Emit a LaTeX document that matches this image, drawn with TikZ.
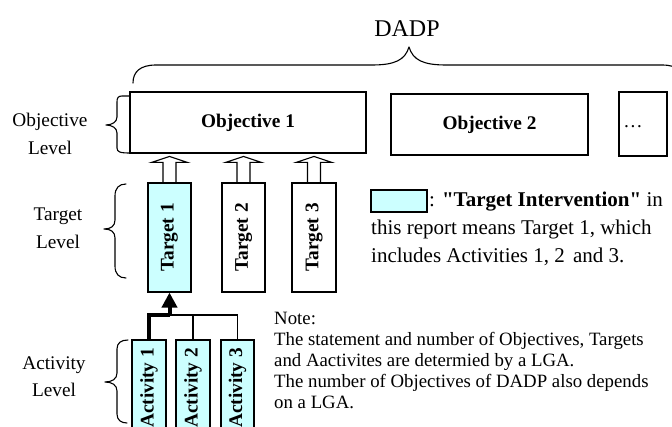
\documentclass[tikz,border=0pt]{standalone}
\usepackage{fontspec}
\usepackage{graphicx}
\setmainfont{Liberation Serif}[Ligatures=TeXOff]
\usetikzlibrary{arrows.meta,calc}
\definecolor{tgtcyan}{RGB}{204,255,255}

\begin{document}
\begin{tikzpicture}[x=1pt,y=-1pt,
  box/.style={draw,line width=1.1pt,inner sep=0pt},
  boldlbl/.style={font=\fontsize{19.3}{23}\selectfont\bfseries},
  lvl/.style={font=\fontsize{19.3}{28}\selectfont,align=center,anchor=base,inner sep=0pt},
  bracepath/.style={line width=1.1pt,line cap=round,line join=round},
  hollow/.style={line width=1.1pt,line join=miter},
  thinconn/.style={line width=1.3pt},
  thickconn/.style={line width=4pt,line join=miter}]
\useasboundingbox (0,0) rectangle (672,427);
\clip (0,0) rectangle (672,427);

% Objective level
\node[box,boldlbl,minimum width=236,minimum height=61] (obj1) at (248,122.5) {Objective 1};
\node[box,boldlbl,minimum width=197,minimum height=61] (obj2) at (489.5,124.5) {Objective 2};
\node[box,minimum width=48,minimum height=64] (more) at (643,124) {};
\node[font=\fontsize{19.3}{23}\selectfont,inner sep=0pt] (moretxt) at (633,127) {\dots};

% Target level
\node[box,fill=tgtcyan,boldlbl,minimum width=43,minimum height=109] (tgt1) at (169.5,237.5) {\rotatebox{90}{Target 1}};
\node[box,boldlbl,minimum width=43,minimum height=109] (tgt2) at (243.5,237.5) {\rotatebox{90}{Target 2}};
\node[box,boldlbl,minimum width=44,minimum height=109] (tgt3) at (314,237.5) {\rotatebox{90}{Target 3}};

% Activity level
\node[box,fill=tgtcyan,boldlbl,minimum width=34,minimum height=96] (act1) at (149,388) {\rotatebox{90}{Activity 1}};
\node[box,fill=tgtcyan,boldlbl,minimum width=34,minimum height=96] (act2) at (193,388) {\rotatebox{90}{Activity 2}};
\node[box,fill=tgtcyan,boldlbl,minimum width=33,minimum height=96] (act3) at (237.5,388) {\rotatebox{90}{Activity 3}};

% Hollow block arrows from targets to the objective
\foreach \t in {tgt1,tgt2,tgt3}
  \draw[hollow] (\t.north) ++(-6.5,0) -- ++(0,-20) -- ++(-11.5,0) -- ++(18,-6)
    -- ++(18,6) -- ++(-11.5,0) -- ++(0,20);

% Activities feeding Target 1
\coordinate (junc) at (169.5,315);
\draw[thinconn] (act1.north |- junc) -- (act3.north |- junc) -- (act3.north);
\draw[thinconn] (act2.north) -- (act2.north |- junc);
\draw[thickconn] (act1.north) |- (junc);
\draw[thickconn,-{Triangle[length=15pt,width=15pt]}] (junc) -- (tgt1.south);

% Braces
\draw[bracepath] (133,83) .. controls (133,72) and (140,65) .. (156,65) -- (372,65)
  .. controls (395,65) and (405,60) .. (409,47) .. controls (413,60) and (423,65) .. (446,65)
  -- (662,65) .. controls (678,65) and (685,72) .. (685,83);
\draw[bracepath] (130,96) -- (122,96) .. controls (118,96) and (117,98) .. (117,102) -- (117,117)
  .. controls (117,122) and (112,125) .. (106,125) .. controls (112,125) and (117,128) .. (117,133)
  -- (117,148) .. controls (117,152) and (120,153) .. (130,153);
\draw[bracepath] (126,184) .. controls (119,184) and (115,188) .. (115,196) -- (115,220)
  .. controls (115,226) and (111,229) .. (104,229) .. controls (111,229) and (115,232) .. (115,238)
  -- (115,266) .. controls (115,274) and (119,278) .. (126,278);
\draw[bracepath] (128,340) .. controls (121,340) and (117,343) .. (117,349) -- (117,373)
  .. controls (117,379) and (112,382) .. (105,382) .. controls (112,382) and (117,385) .. (117,391)
  -- (117,414) .. controls (117,420) and (121,423) .. (127,423);

% Labels (base anchor of a multi-line node sits on its last line)
\node[font=\fontsize{24}{27}\selectfont,anchor=base,inner sep=0pt] (dadp) at (407,37) {DADP};
\node[lvl] (objlvl) at (50,155) {Objective\\Level};
\node[lvl] (tgtlvl) at (58,249) {Target\\Level};
\node[lvl] (actlvl) at (54,397) {Activity\\Level};

% Legend
\node[box,fill=tgtcyan,minimum width=56,minimum height=22] (legbox) at (399,201) {};
\node[font=\fontsize{21}{28}\selectfont,anchor=base west,inner sep=0pt] (leg1) at (429,207)
  {: \textbf{"Target Intervention"} in};
\node[font=\fontsize{21}{28}\selectfont,anchor=base west,align=left,inner sep=0pt] (leg2) at (371,263)
  {this report means Target 1, which\\includes Activities 1, 2\hspace{3pt} and 3.};

% Note
\node[font=\fontsize{18.8}{21}\selectfont,anchor=base west,align=left,inner sep=0pt] (note) at (274,409)
  {Note:\\The statement and number of Objectives, Targets\\and Aactivites are determied by a LGA.\\The number of Objectives of DADP also depends\\on a LGA.};
\end{tikzpicture}
\end{document}
